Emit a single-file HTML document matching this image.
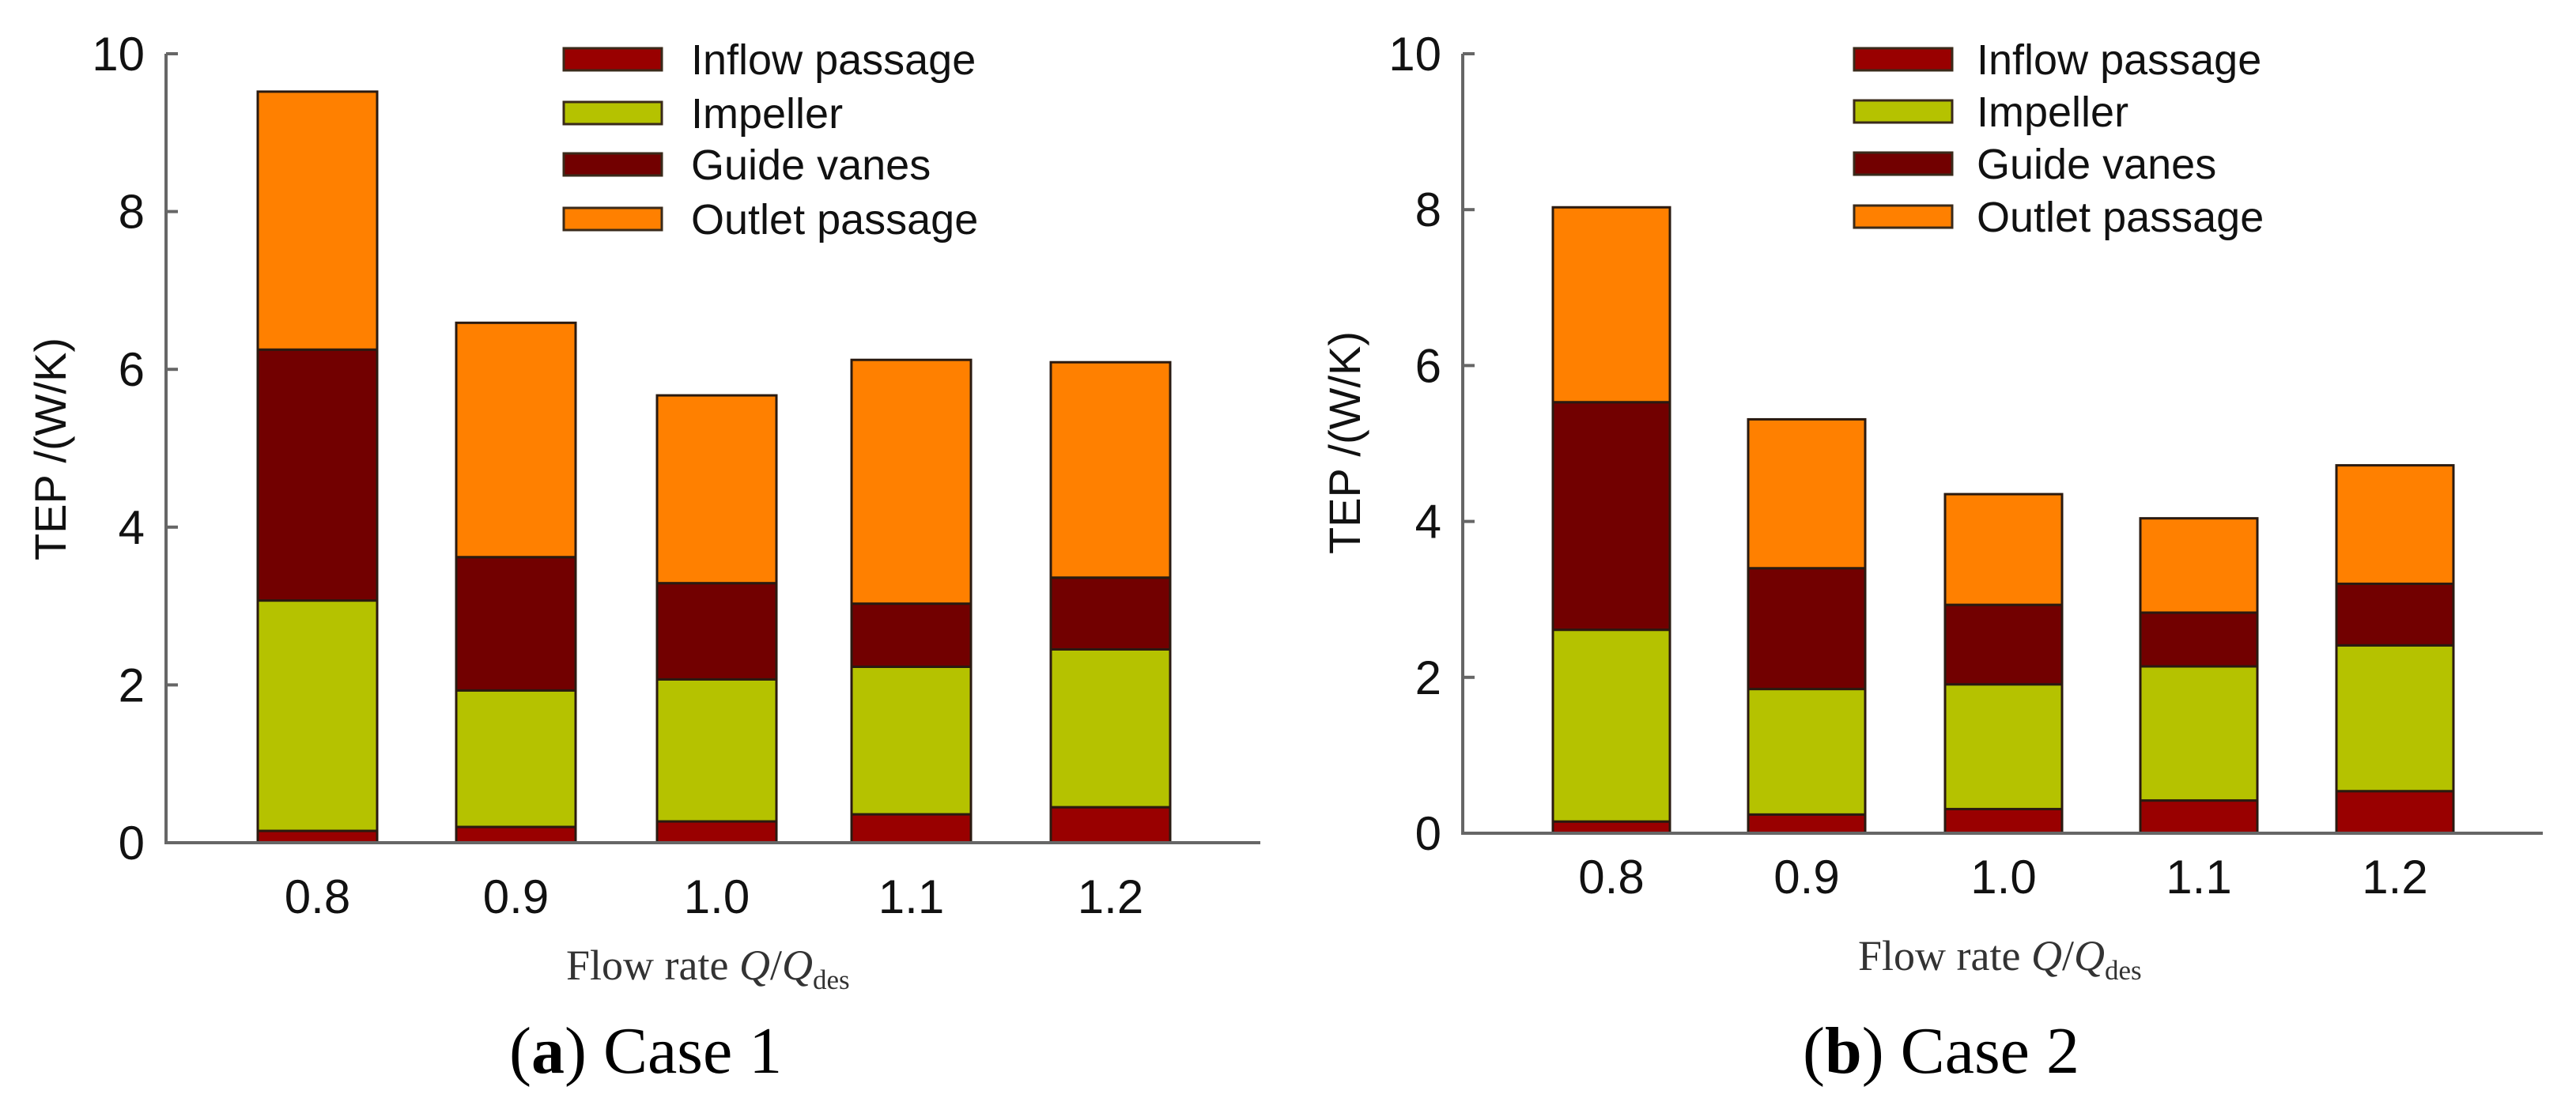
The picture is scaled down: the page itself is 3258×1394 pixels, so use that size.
<!DOCTYPE html>
<html><head><meta charset="utf-8">
<style>
html,body{margin:0;padding:0;background:#fff;}
svg{display:block;}
</style></head>
<body>
<svg id="fig" width="3258" height="1394" viewBox="0 0 3258 1394" xmlns="http://www.w3.org/2000/svg"></svg>
<script>
const categories = ["0.8","0.9","1.0","1.1","1.2"];
const seriesNames = ["Inflow passage","Impeller","Guide vanes","Outlet passage"];
const seriesColors = ["#990000","#b5c200","#720000","#ff8000"];
// Case 1 component values (W/K)
const case1Inflow   = [0.15,0.20,0.27,0.36,0.45];
const case1Impeller = [2.92,1.73,1.80,1.87,2.00];
const case1Guide    = [3.18,1.69,1.22,0.80,0.91];
const case1Outlet   = [3.27,2.97,2.38,3.09,2.73];
// Case 2 component values (W/K)
const case2Inflow   = [0.15,0.24,0.31,0.42,0.54];
const case2Impeller = [2.46,1.61,1.60,1.72,1.87];
const case2Guide    = [2.92,1.55,1.02,0.69,0.79];
const case2Outlet   = [2.50,1.91,1.42,1.21,1.52];
const yTicks = [0,2,4,6,8,10];

const NS="http://www.w3.org/2000/svg";
const svg=document.getElementById('fig');
function mk(tag,attrs,parent){const e=document.createElementNS(NS,tag);for(const k in attrs)e.setAttribute(k,attrs[k]);(parent||svg).appendChild(e);return e;}

const panels=[
 {id:'a',series:[case1Inflow,case1Impeller,case1Guide,case1Outlet],ax:210,axEnd:1594,y0:1066,y10:68,
  barL:[326,577,831,1077,1329],barW:151,xLabY:1155,titleX:64,titleY:568,legX:713,legTX:874,legRows:[75,143,208,277],
  flowX:716,flowY:1239,capX:644,capY:1357,capNum:'1'},
 {id:'b',series:[case2Inflow,case2Impeller,case2Guide,case2Outlet],ax:1850,axEnd:3216,y0:1054,y10:68,
  barL:[1964,2211,2460,2707,2955],barW:148,xLabY:1130,titleX:1701,titleY:560,legX:2345,legTX:2500,legRows:[75,141,207,274],
  flowX:2350,flowY:1227,capX:2280,capY:1357,capNum:'2'}
];

panels.forEach(p=>{
  const g=mk('g',{});
  
  
  const yS=v=>p.y0-(p.y0-p.y10)*v/10;
  categories.forEach((c,i)=>{
    let acc=0;
    p.series.forEach((s,k)=>{
      const v=s[i];
      const r=mk('rect',{x:p.barL[i],y:yS(acc+v),width:p.barW,height:yS(acc)-yS(acc+v),fill:seriesColors[k],stroke:'#2a1a10','stroke-width':3},g);
      
      
      acc+=v;
    });
    const t=mk('text',{x:p.barL[i]+p.barW/2,y:p.xLabY,'font-family':'Liberation Sans, sans-serif','font-size':60,'text-anchor':'middle',fill:'#111'},g);
    t.textContent=c;
    
    
  });
  const ya=mk('line',{x1:p.ax,y1:p.y10,x2:p.ax,y2:p.y0,stroke:'#666','stroke-width':4},g);
  
  
  const xa=mk('line',{x1:p.ax-2,y1:p.y0,x2:p.axEnd,y2:p.y0,stroke:'#666','stroke-width':4},g);
  
  
  yTicks.forEach(v=>{
    const tk=mk('line',{x1:p.ax,y1:yS(v),x2:p.ax+15,y2:yS(v),stroke:'#666','stroke-width':4},g);
    
    
    const t=mk('text',{x:p.ax-27,y:yS(v)+21,'font-family':'Liberation Sans, sans-serif','font-size':60,'text-anchor':'end',fill:'#111'},g);
    t.textContent=v;
    
    
  });
  const yt=mk('text',{x:0,y:0,transform:`translate(${p.titleX+19},${p.titleY}) rotate(-90)`,'font-family':'Liberation Sans, sans-serif','font-size':56,'text-anchor':'middle',fill:'#111'},g);
  yt.textContent='TEP /(W/K)';
  
  
  seriesNames.forEach((n,k)=>{
    const lg=mk('g',{},g);
    
    
    mk('rect',{x:p.legX,y:p.legRows[k]-14,width:124,height:28,fill:seriesColors[k],stroke:'#3a2a1a','stroke-width':3},lg);
    const t=mk('text',{x:p.legTX,y:p.legRows[k]+19,'font-family':'Liberation Sans, sans-serif','font-size':54,fill:'#111'},lg);
    t.textContent=n;
  });
  const xt=mk('text',{x:p.flowX,y:p.flowY,'font-family':'Liberation Serif, serif','font-size':54,fill:'#333'},g);
  
  
  xt.innerHTML='Flow rate <tspan font-style="italic">Q</tspan>/<tspan font-style="italic">Q</tspan><tspan font-size="35" dy="12">des</tspan>';
  const cp=mk('text',{x:p.capX,y:p.capY,'font-family':'Liberation Serif, serif','font-size':84,fill:'#000'},g);
  
  
  cp.innerHTML='(<tspan font-weight="bold">'+p.id+'</tspan>) Case '+p.capNum;
});
</script>
</body></html>
